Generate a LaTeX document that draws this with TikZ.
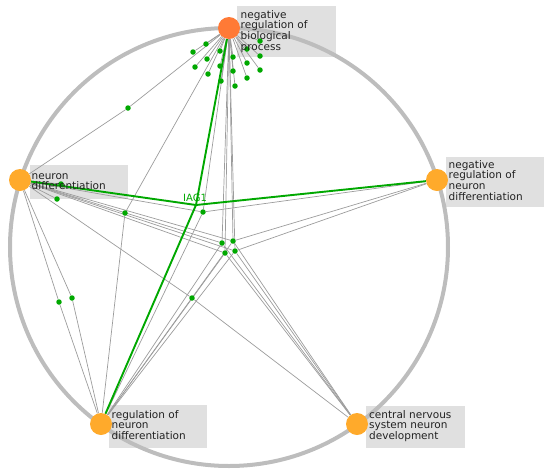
\documentclass[tikz,border=0pt]{standalone}
\usepackage{fontspec}
\setmainfont{DejaVu Sans}
\definecolor{ringc}{HTML}{BDBDBD}
\definecolor{boxc}{HTML}{E0E0E0}
\definecolor{termc}{HTML}{FFAA2B}
\definecolor{topc}{HTML}{FF7A36}
\definecolor{genec}{HTML}{00A800}
\definecolor{edgec}{HTML}{9C9C9C}
\definecolor{txtc}{HTML}{222222}
\pgfdeclarelayer{bg}
\pgfdeclarelayer{edges}
\pgfsetlayers{bg,edges,main}
\tikzset{
  term/.style={circle, minimum size=22pt, inner sep=0pt, fill=termc},
  gene/.style={circle, minimum size=5.5pt, inner sep=0pt, fill=genec},
  hub/.style={circle, minimum size=2.5pt, inner sep=0pt, fill=genec},
  lbox/.style={rectangle, fill=boxc, inner sep=0pt, anchor=north west},
  ltext/.style={anchor=base west, inner sep=0pt, text=txtc, font=\fontsize{10.5}{10.7}\selectfont},
  gedge/.style={draw=edgec, line width=0.7pt},
  hedge/.style={draw=genec, line width=1.9pt},
  ring/.style={draw=ringc, line width=4pt},
}
\begin{document}
\begin{tikzpicture}[x=1pt,y=-1pt]
\useasboundingbox (0,0) rectangle (550,475);
% label boxes and ring
\begin{pgfonlayer}{bg}
  \node[lbox, minimum width=99pt, minimum height=51pt] (Tb) at (237,6) {};
  \node[lbox, minimum width=98pt, minimum height=50pt] (Rb) at (446,157) {};
  \node[lbox, minimum width=98pt, minimum height=34pt] (Lb) at (30,165) {};
  \node[lbox, minimum width=98pt, minimum height=43pt] (BLb) at (109,405) {};
  \node[lbox, minimum width=99pt, minimum height=42pt] (BRb) at (366,406) {};
  \node[draw=none, circle, inner sep=0pt, minimum size=0pt] (C) at (229,247) {};
  \draw[ring] (C) circle[radius=219pt];
\end{pgfonlayer}
% term nodes
\node[term, fill=topc] (T) at (229,28) {};
\node[term] (L) at (20,180) {};
\node[term] (R) at (437,180) {};
\node[term] (BL) at (101,424) {};
\node[term] (BR) at (357,424) {};
% top cluster genes
\foreach \n/\p in {1/{(206,44)},2/{(193,52)},3/{(220,51)},4/{(207,59)},5/{(195,67)},6/{(220,66)},7/{(208,74)},8/{(221,81)},9/{(233,57)},10/{(233,71)},11/{(235,86)},12/{(247,49)},13/{(247,63)},14/{(247,78)},15/{(260,41)},16/{(260,56)},17/{(260,70)}}
  \node[gene] (g\n) at \p {};
% other genes
\node[gene] (a) at (128,108) {};
\node[gene] (b) at (125,213) {};
\node[gene] (c) at (203,212) {};
\node[gene] (d1) at (222,243) {};
\node[gene] (d2) at (233,241) {};
\node[gene] (d3) at (225,253) {};
\node[gene] (d4) at (235,251) {};
\node[gene] (e) at (192,298) {};
\node[gene] (f1) at (59,302) {};
\node[gene] (f2) at (72,298) {};
\node[gene] (h1) at (61,184) {};
\node[gene] (h2) at (57,199) {};
\node[hub] (I) at (196,205) {};
% edges
\begin{pgfonlayer}{edges}
  \foreach \n in {1,...,17} \draw[gedge] (T) -- (g\n);
  \draw[gedge] (T) -- (a) -- (L);
  \draw[gedge] (T) -- (b) -- (BL);
  \foreach \t in {T,L,R,BL} \draw[gedge] (c) -- (\t);
  \foreach \g in {d1,d2,d3,d4} {
    \foreach \t in {T,L,BL,BR} \draw[gedge] (\g) -- (\t);
  }
  \draw[gedge] (d2) -- (R);
  \draw[gedge] (d4) -- (R);
  \draw[gedge] (L) -- (e) -- (BR);
  \draw[gedge] (L) -- (f1) -- (BL);
  \draw[gedge] (L) -- (f2) -- (BL);
  \draw[gedge] (L) -- (h1);
  \draw[gedge] (L) -- (h2);
  \foreach \t in {T,L,R,BL} \draw[hedge] (I.center) -- (\t);
\end{pgfonlayer}
% texts
\node[ltext] (Tt) at (240.5,18) {\parbox[t]{95pt}{negative\\regulation of\\biological\\process}};
\node[ltext] (Rt) at (448.5,168) {\parbox[t]{95pt}{negative\\regulation of\\neuron\\differentiation}};
\node[ltext] (Lt) at (31.5,179) {\parbox[t]{95pt}{neuron\\differentiation}};
\node[ltext] (BLt) at (111.5,418) {\parbox[t]{95pt}{regulation of\\neuron\\differentiation}};
\node[ltext] (BRt) at (369,418) {\parbox[t]{95pt}{central nervous\\system neuron\\development}};
\node[anchor=base, inner sep=0pt, text=genec, font=\fontsize{10}{12}\selectfont] (Il) at (195,201) {IAG1};
\end{tikzpicture}
\end{document}
